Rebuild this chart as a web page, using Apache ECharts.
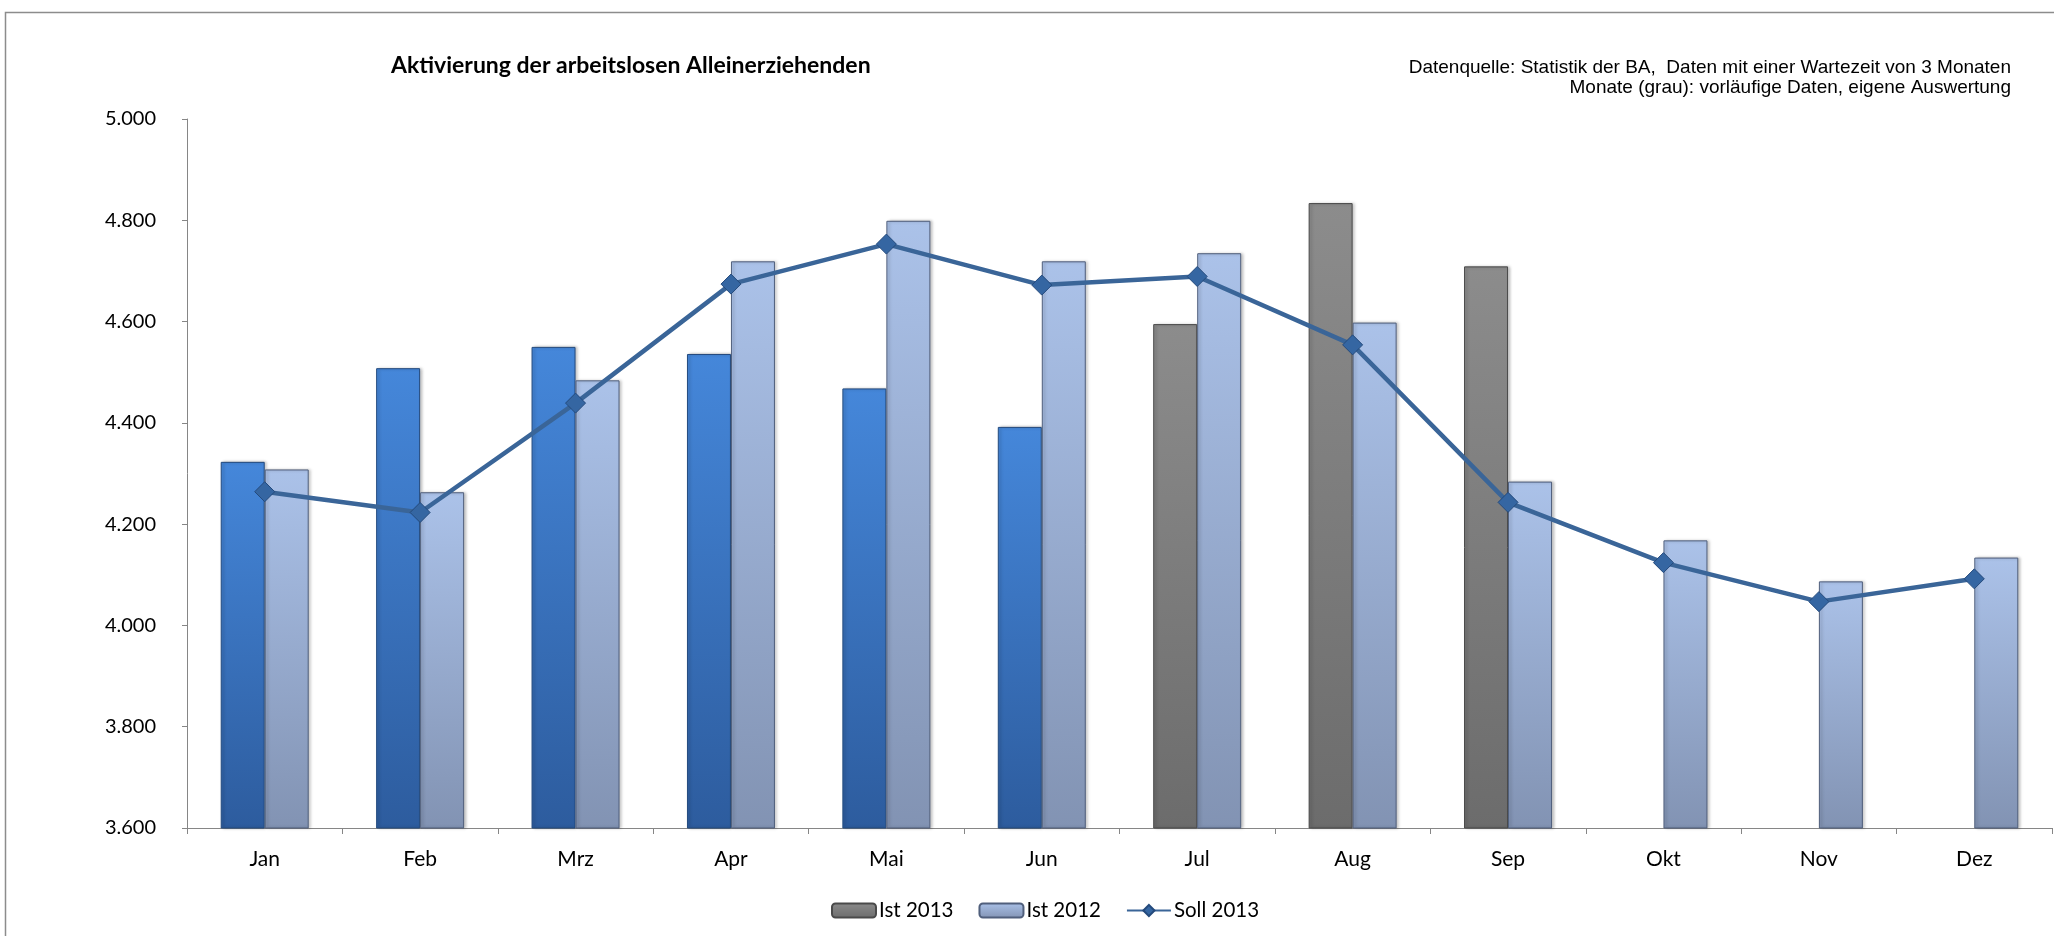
<!DOCTYPE html>
<html>
<head>
<meta charset="utf-8">
<script src="https://cdn.jsdelivr.net/npm/echarts@6/dist/echarts.min.js"></script>
<style>
  html, body { margin: 0; padding: 0; background: #fff; }
  #chart { width: 2054px; height: 936px; }
</style>
</head>
<body>
<div id="chart"></div>
<script>
const months = ["Jan", "Feb", "Mrz", "Apr", "Mai", "Jun", "Jul", "Aug", "Sep", "Okt", "Nov", "Dez"];
const ist2013 = [4323, 4508, 4550, 4536, 4468, 4392, 4595, 4834, 4709, null, null, null];
const ist2012 = [4308, 4263, 4484, 4719, 4799, 4719, 4735, 4598, 4284, 4168, 4087, 4134];
const soll2013 = [4264, 4223, 4439, 4674, 4753, 4672, 4689, 4554, 4243, 4124, 4047, 4092];
// months with final data (blue), the rest are preliminary (grey)
const finalMonths = 6;
const yTicks = [3600, 3800, 4000, 4200, 4400, 4600, 4800, 5000];

const grad = (top, bottom) => new echarts.graphic.LinearGradient(0, 0, 0, 1, [
  { offset: 0, color: top },
  { offset: 1, color: bottom },
]);

const blueStyle = {
  color: grad("#4587da", "#2d5c9e"),
  borderColor: "#234a7e",
  borderWidth: 1,
};

const chart = echarts.init(document.getElementById("chart"));
const option = {
  animation: false,
  textStyle: { fontFamily: "Lato", color: "#000" },
  title: {
    text: "Aktivierung der arbeitslosen Alleinerziehenden",
    left: 386,
    top: 49,
    textStyle: { fontFamily: "Lato", fontWeight: "bold", fontSize: 23, color: "#000" },
  },
  graphic: [
    {
      type: "rect",
      left: 3,
      top: 10,
      shape: { width: 2060, height: 940 },
      style: { fill: "none", stroke: "#8c8c8c", lineWidth: 1.5 },
    },
    {
      type: "text",
      right: 43,
      top: 58,
      style: {
        text: "Datenquelle: Statistik der BA,  Daten mit einer Wartezeit von 3 Monaten",
        font: "19px 'Liberation Sans'",
        fill: "#000",
      },
    },
    {
      type: "text",
      right: 43,
      top: 78,
      style: {
        text: "Monate (grau): vorläufige Daten, eigene Auswertung",
        font: "19px 'Liberation Sans'",
        fill: "#000",
      },
    },
  ],
  legend: {
    data: ["Ist 2013", "Ist 2012", "Soll 2013"],
    left: 826,
    top: 895,
    itemWidth: 44,
    itemHeight: 14,
    itemGap: 25,
    textStyle: { fontFamily: "Lato", fontSize: 20.5, color: "#000", padding: [0, 0, 0, -2] },
  },
  grid: {
    left: 187,
    right: 2,
    top: 119,
    bottom: 108,
  },
  xAxis: {
    type: "category",
    data: months,
    axisLine: { lineStyle: { color: "#868686", width: 1 } },
    axisTick: { show: true, length: 6, lineStyle: { color: "#868686" } },
    axisLabel: { fontFamily: "Lato", fontSize: 21, color: "#000", margin: 21 },
  },
  yAxis: {
    type: "value",
    min: yTicks[0],
    max: yTicks[yTicks.length - 1],
    interval: 200,
    splitLine: { show: false },
    axisLine: { show: true, lineStyle: { color: "#868686", width: 1 } },
    axisTick: { show: true, length: 5, lineStyle: { color: "#868686" } },
    axisLabel: {
      fontFamily: "Lato",
      fontSize: 20,
      color: "#000",
      margin: 31,
      formatter: (v) => (v / 1000).toFixed(3),
    },
  },
  series: [
    {
      name: "Ist 2013",
      type: "bar",
      barWidth: 44,
      barGap: "0%",
      data: ist2013.map((v, i) => (i < finalMonths ? { value: v, itemStyle: blueStyle } : v)),
      itemStyle: {
        color: grad("#8c8c8c", "#6c6c6c"),
        borderColor: "#4a4a4a",
        borderWidth: 1,
        shadowColor: "rgba(0,0,0,0.25)",
        shadowBlur: 3,
        shadowOffsetX: 2,
      },
    },
    {
      name: "Ist 2012",
      type: "bar",
      barWidth: 44,
      barGap: "0%",
      data: ist2012,
      itemStyle: {
        color: grad("#abc2e9", "#8293b3"),
        borderColor: "#505f7c",
        borderWidth: 1,
        shadowColor: "rgba(0,0,0,0.25)",
        shadowBlur: 3,
        shadowOffsetX: 2,
      },
    },
    {
      name: "Soll 2013",
      type: "line",
      data: soll2013,
      symbol: "diamond",
      symbolSize: 20,
      z: 5,
      lineStyle: { color: "#3a6598", width: 4.5 },
      itemStyle: { color: "#3566a2", borderColor: "#244a7c", borderWidth: 1 },
    },
  ],
};
chart.setOption(option);
</script>
</body>
</html>
